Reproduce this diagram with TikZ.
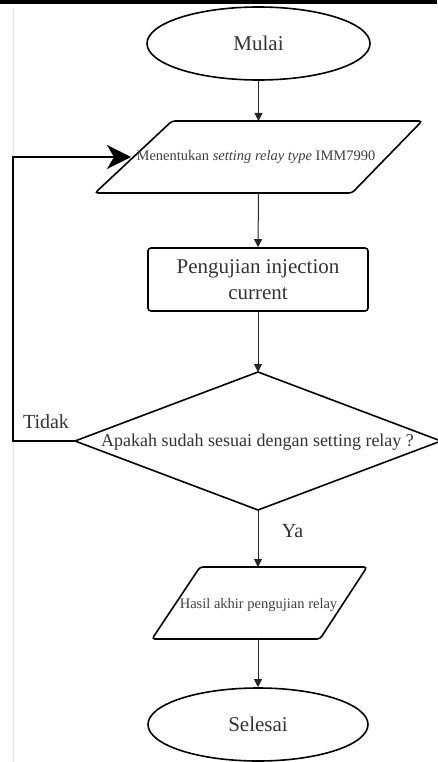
\documentclass[tikz,border=0pt]{standalone}
\usepackage{fontspec}
\setmainfont{Liberation Serif}
\usetikzlibrary{arrows.meta,shapes.geometric}
\tikzset{
  shapeline/.style={draw=black, line width=1.6pt},
  conn/.style={draw=black!85, line width=1pt, -{Triangle[length=8pt,width=8pt]}},
  fbline/.style={draw=black, line width=2pt, -{Stealth[length=24pt,width=24pt,inset=7pt]}},
  bigtxt/.style={font=\fontsize{21}{26}\selectfont, text=black!80, inner sep=0pt},
  smalltxt/.style={font=\fontsize{14.5}{17}\selectfont, text=black!75, inner sep=0pt},
  midtxt/.style={font=\fontsize{18}{21}\selectfont, text=black!80, inner sep=0pt},
  terminal/.style={shapeline, ellipse, inner sep=0pt},
}
\begin{document}
\begin{tikzpicture}[x=1pt,y=-1pt]
\useasboundingbox (0,0) rectangle (437,762);
% top bar and faint left border
\fill[black] (0,0) rectangle (437,4);
\draw[gray!20, line width=0.8pt] (13,8) -- (13,762);

% Mulai
\node[terminal, minimum width=223pt, minimum height=73pt, bigtxt] (mulai) at (258.5,43.5) {Mulai};

% parallelogram 1
\coordinate (p1TL) at (172,121);
\coordinate (p1TR) at (422,121);
\coordinate (p1BR) at (352,193);
\coordinate (p1BL) at (95,193);
\draw[shapeline, rounded corners=3pt] (p1TL) -- (p1TR) -- (p1BR) -- (p1BL) -- cycle;
\coordinate (p1top) at (258.5,121);
\coordinate (p1bot) at (258.5,193);
\node[smalltxt] (p1txt) at (256,157) {Menentukan \textit{setting relay type} IMM7990};

% rectangle
\node[shapeline, rounded corners=3pt, minimum width=220pt, minimum height=63pt, bigtxt, align=center] (uji) at (258,279.5) {Pengujian injection\\current};

% diamond
\coordinate (dT) at (258,372);
\coordinate (dB) at (258,510);
\coordinate (dL) at (75,441);
\coordinate (dR) at (441,441);
\draw[shapeline] (dT) -- (dR) -- (dB) -- (dL) -- cycle;
\node[midtxt] (dtxt) at (257.5,442) {Apakah sudah sesuai dengan setting relay ?};

% parallelogram 2
\coordinate (p2TL) at (200,567);
\coordinate (p2TR) at (367,567);
\coordinate (p2BR) at (320,639);
\coordinate (p2BL) at (152,639);
\draw[shapeline, rounded corners=3pt] (p2TL) -- (p2TR) -- (p2BR) -- (p2BL) -- cycle;
\coordinate (p2top) at (258,567);
\coordinate (p2bot) at (258,639);
\node[smalltxt] (p2txt) at (258.5,605) {Hasil akhir pengujian relay};

% Selesai
\node[terminal, minimum width=220pt, minimum height=73pt, bigtxt] (selesai) at (258,724.5) {Selesai};

% connectors
\draw[conn] (mulai.south) -- (p1top);
\draw[conn] (p1bot) -- (uji.north);
\draw[conn] (uji.south) -- (dT);
\draw[conn] (dB) -- (p2top);
\draw[conn] (p2bot) -- (selesai.north);
\coordinate (fbend) at (131,157);
\draw[fbline] (dL) -- ++(-62,0) |- (fbend);

% labels
\node[bigtxt, font=\fontsize{20}{24}\selectfont] (tidak) at (46,422) {Tidak};
\node[bigtxt, font=\fontsize{20}{24}\selectfont] (ya) at (292.5,531) {Ya};
\end{tikzpicture}
\end{document}
